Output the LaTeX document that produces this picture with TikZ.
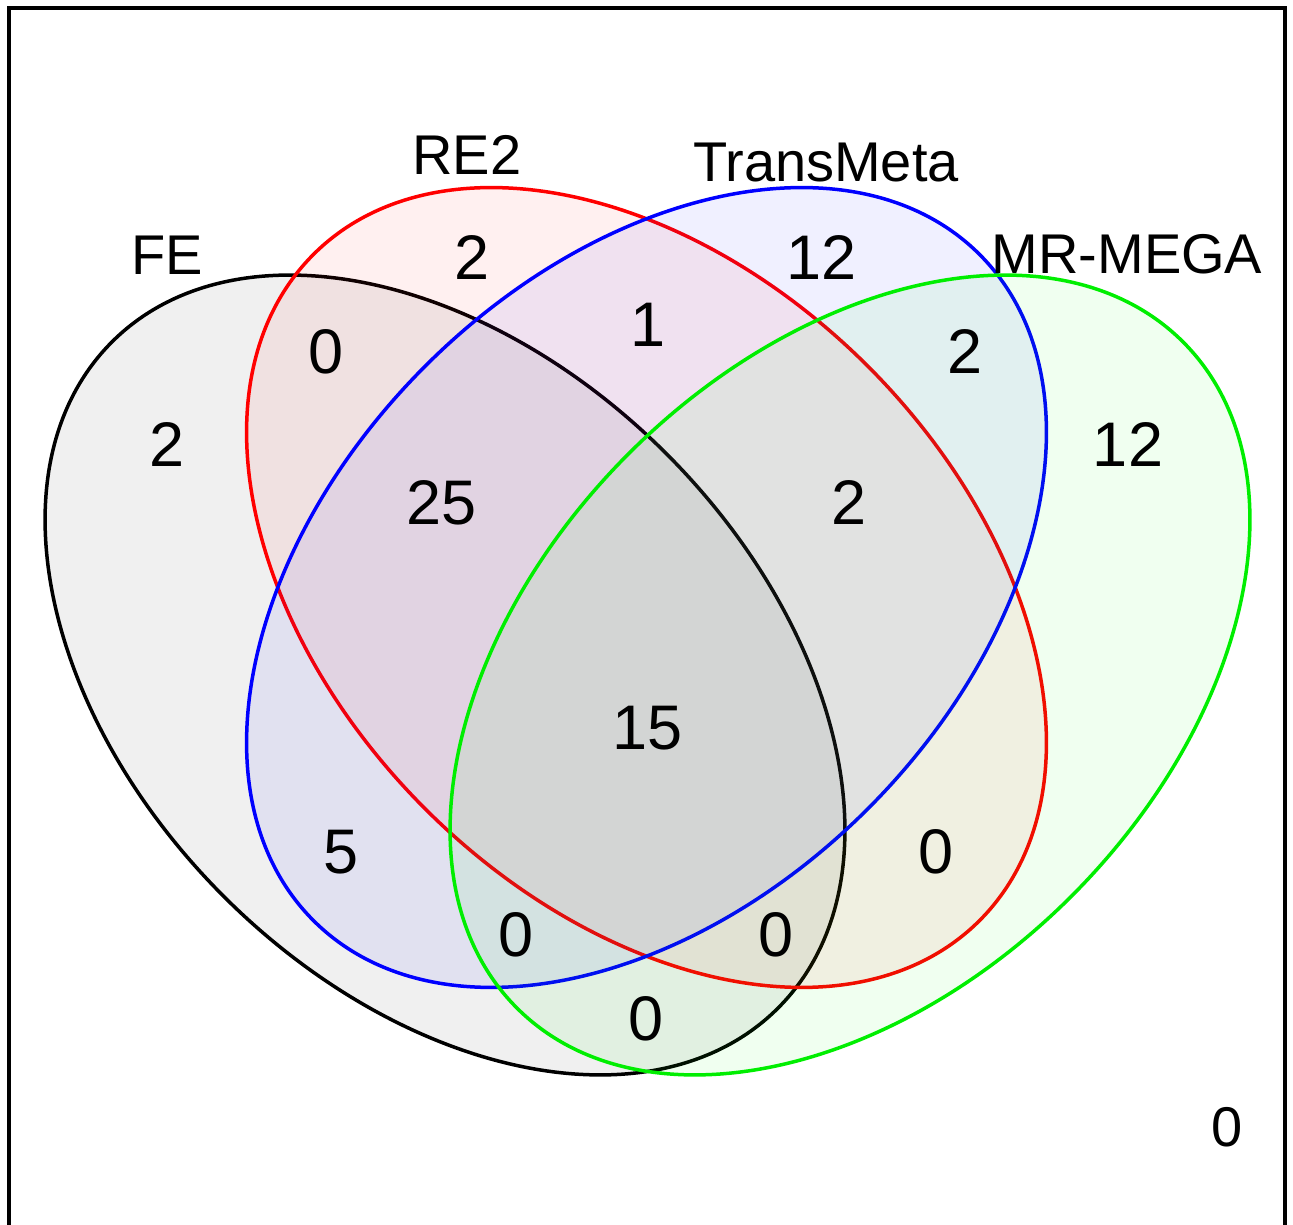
\documentclass[tikz,border=0pt]{standalone}
\usepackage{fontspec}
\setmainfont{Liberation Sans}
\begin{document}
\begin{tikzpicture}[x=1pt,y=1pt,
  num/.style={inner sep=0pt, font=\fontsize{63}{63}\selectfont},
  lab/.style={inner sep=0pt, font=\fontsize{56}{56}\selectfont},
  vset/.style={line width=3.5pt, fill opacity=0.06}]
\useasboundingbox (0,0) rectangle (1293,1224);
\begin{scope}
\clip (0,0) rectangle (1293,1224);
\draw[line width=4pt, fill=white] (8.5,-20) rectangle (1285,1215.5);
\end{scope}
% sets
\draw[vset, draw=black, fill=black, rotate around={-45:(445,549)}] (445,549) ellipse [x radius=471, y radius=313];
\draw[vset, draw=red, fill=red, rotate around={-45:(646.5,636.5)}] (646.5,636.5) ellipse [x radius=471, y radius=313];
\draw[vset, draw=blue, fill=blue, rotate around={45:(646.5,636.5)}] (646.5,636.5) ellipse [x radius=471, y radius=313];
\draw[vset, draw={rgb,255:red,0;green,238;blue,0}, fill=green, rotate around={45:(850,549)}] (850,549) ellipse [x radius=471, y radius=313];
% labels
\node[lab] (lFE) at (167,969) {FE};
\node[lab] (lRE) at (467,1069) {RE2};
\node[lab] (lTM) at (826,1061) {TransMeta};
\node[lab] (lMR) at (1127,970) {MR-MEGA};
% counts
\node[num] (nR) at (472,966) {2};
\node[num] (nT) at (822,966) {12};
\node[num] (nFR) at (326,872) {0};
\node[num] (nRT) at (648,899) {1};
\node[num] (nTM) at (965,872) {2};
\node[num] (nF) at (167,779) {2};
\node[num] (nM) at (1128,779) {12};
\node[num] (nFRT) at (442,721) {25};
\node[num] (nRTM) at (849,721) {2};
\node[num] (nAll) at (648,496) {15};
\node[num] (nFT) at (341,372) {5};
\node[num] (nRM) at (936,372) {0};
\node[num] (nFTM) at (516,289) {0};
\node[num] (nFRM) at (776,289) {0};
\node[num] (nFM) at (646,205) {0};
\node[lab] (nNone) at (1227,97) {0};
\end{tikzpicture}
\end{document}
